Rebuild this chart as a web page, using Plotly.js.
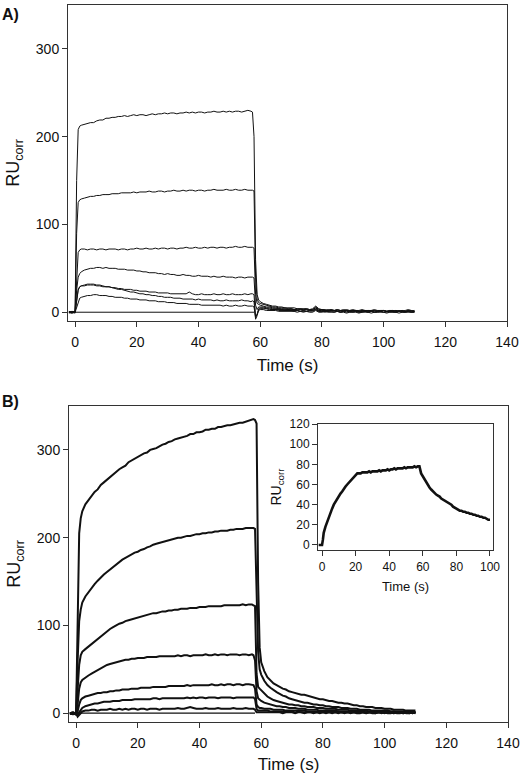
<!DOCTYPE html>
<html>
<head>
<meta charset="utf-8">
<script src="https://cdn.plot.ly/plotly-3.0.1.min.js"></script>
<style>html,body{margin:0;padding:0;background:#fff;}#chart{width:520px;height:774px;}</style>
</head>
<body>
<div id="chart"></div>
<script>
// ---------- time base (s) for the two main panels ----------
const timeMain = [-2,-1,0,0.5,1,1.5,2,
  3,4,5,6,7,8,9,10,11,12,13,
  14,15,16,17,18,19,20,21,22,23,24,
  25,26,27,28,29,30,31,32,33,34,35,
  36,37,38,39,40,41,42,43,44,45,46,
  47,48,49,50,51,52,53,54,55,56,57,
  57.5,58,58.5,59,59.5,
  60,61,62,63,64,65,66,67,68,69,
  70,71,72,73,74,75,76,77,78,79,
  80,81,82,83,84,85,86,87,88,89,
  90,91,92,93,94,95,96,97,98,99,
  100,101,102,103,104,105,106,107,108,109,110];

// ---------- panel A sensorgrams (RU corr) ----------
const panelA_1 = [0,1,0, 150,208,212,213,
  214,215,216,216,218,219,219,221,221,222,222,
  223,223,224,223,224,225,224,225,225,224,225,
  226,225,226,226,227,226,227,227,226,227,227,
  228,227,228,227,228,228,227,228,228,229,228,
  228,229,228,229,228,229,229,228,229,230,229,
  228,200,60,20,14,
  12,10,9,8,7,7,6,6,5,5,
  5,5,4,4,4,4,3,4,7,4,
  3,3,2,3,2,3,2,3,2,2,
  3,2,2,3,2,2,2,3,2,2,
  2,1,2,2,1,2,1,2,3,2,1];
const panelA_2 = [1,0,-1, 90,125,128,129,
  130,131,132,132,133,133,134,134,134,135,135,
  135,136,136,136,136,137,136,137,137,137,138,
  137,137,138,138,137,138,138,139,138,138,139,
  138,139,139,138,139,139,138,139,139,140,139,
  139,139,140,139,139,140,139,139,140,139,139,
  139,138,40,15,11,
  10,9,8,7,6,6,5,5,5,4,
  4,3,4,3,3,4,3,3,6,3,
  3,2,3,2,2,3,2,2,3,2,
  2,2,1,2,2,1,2,2,1,2,
  2,1,2,1,2,1,2,1,2,1,2];
const panelA_3 = [0,-1,1, 45,68,71,72,
  72,71,72,72,71,72,72,71,72,72,72,
  71,72,72,71,72,72,73,72,72,73,72,
  72,73,72,73,73,72,73,73,72,73,73,
  74,73,73,74,73,73,74,73,74,74,73,
  74,74,73,74,74,75,74,74,75,74,74,
  74,73,20,10,9,
  8,7,6,6,5,5,4,4,4,3,
  4,3,3,4,3,3,2,3,5,2,
  3,2,2,3,2,2,1,2,2,1,
  2,2,1,2,1,2,1,1,2,1,
  2,1,1,2,1,1,2,1,1,2,1];
const panelA_4 = [-1,0,1, 25,40,44,46,
  48,49,50,50,51,51,50,51,50,50,50,
  49,49,49,48,48,48,47,47,46,46,45,
  45,45,44,44,43,44,43,43,42,42,43,
  42,42,41,41,42,41,41,41,40,41,40,
  40,41,40,40,40,39,40,40,39,40,40,
  40,39,8,3,6,
  6,6,5,5,4,4,4,3,3,3,
  3,3,2,3,2,3,2,2,4,2,
  2,2,1,2,2,1,2,1,2,1,
  1,2,1,1,2,1,1,2,1,1,
  2,1,1,1,2,1,1,1,2,1,1];
const panelA_5 = [0,1,0, 15,26,29,30,
  30,31,31,31,30,30,29,29,29,28,28,
  27,27,26,26,26,25,25,24,24,24,23,
  23,23,22,22,22,22,21,21,21,21,21,
  21,23,21,20,20,21,20,20,20,21,20,
  20,21,20,20,21,20,20,20,21,20,21,
  21,20,-5,-3,4,
  5,5,4,4,3,3,3,3,2,2,
  2,2,2,1,2,1,1,2,3,1,
  1,1,1,2,1,1,0,1,1,0,
  1,1,0,1,1,0,1,0,1,1,
  0,1,0,1,0,1,1,0,1,0,1];
const panelA_6 = [1,0,0, 14,25,29,30,
  31,32,32,32,31,31,30,29,29,28,27,
  26,26,25,24,23,23,22,21,21,20,20,
  19,19,18,18,17,17,17,16,16,16,15,
  15,15,15,14,15,14,14,14,14,13,14,
  13,13,14,13,13,13,13,14,13,13,12,
  13,12,-8,-4,3,
  4,4,4,3,3,3,2,2,2,2,
  2,1,2,1,1,1,2,1,3,1,
  1,0,1,1,0,1,0,1,0,1,
  0,1,0,0,1,0,1,0,0,1,
  0,0,1,0,0,1,0,0,1,0,0];
const panelA_7 = [0,-1,0, 6,13,16,17,
  18,19,19,20,20,19,19,19,18,18,17,
  17,17,16,16,15,15,15,14,14,14,13,
  13,13,12,12,12,11,11,11,10,10,10,
  10,9,9,9,9,8,8,8,8,8,8,
  8,7,8,7,7,8,7,7,8,7,7,
  7,6,-6,-2,2,
  3,3,2,2,2,2,1,1,1,1,
  1,1,0,1,0,1,0,0,2,0,
  0,1,0,0,0,1,0,0,-1,0,
  0,0,-1,0,0,0,-1,0,0,0,
  0,-1,0,0,0,-1,0,0,0,0,0];
const baselineA_t = [-2, 58];
const baselineA_v = [0, 0];

// ---------- panel B sensorgrams (RU corr) ----------
const panelB_1 = [0,1,-2, 120,205,222,230,
  238,243,247,252,255,260,263,266,270,272,275,
  278,280,282,286,288,290,292,294,296,297,300,
  301,302,304,306,307,309,310,312,313,314,315,
  316,318,318,320,320,321,323,323,324,324,326,
  326,327,328,328,329,330,331,331,332,333,334,
  335,334,330,150,75,
  58,48,41,37,34,32,30,28,27,25,
  24,23,22,21,21,20,19,18,17,16,
  16,15,14,14,13,12,12,11,11,10,
  9,9,8,8,7,7,7,6,6,6,
  5,5,5,4,4,4,4,3,3,3,3];
const panelB_2 = [-1,0,1, 60,105,118,126,
  133,138,143,147,151,155,158,161,164,167,170,
  172,175,177,179,181,183,184,186,187,189,190,
  192,193,194,195,196,197,198,199,200,200,201,
  202,202,203,204,204,205,205,206,206,207,207,
  208,208,208,209,209,210,210,210,211,211,211,
  211,210,150,70,50,
  44,37,32,29,26,24,22,20,19,17,
  16,15,14,13,12,12,11,10,10,9,
  9,8,8,7,7,7,6,6,6,5,
  5,5,4,4,4,4,3,3,3,3,
  3,3,2,2,2,2,2,2,2,1,1];
const panelB_3 = [0,-1,0, 25,55,66,70,
  73,76,79,82,85,88,91,94,96,98,100,
  102,103,105,106,107,108,109,110,111,112,113,
  114,114,115,116,116,117,117,118,118,119,119,
  119,120,120,120,121,121,121,122,122,122,122,
  122,123,123,123,123,123,123,124,123,124,124,
  123,122,45,30,28,
  26,22,19,17,15,14,13,12,11,10,
  10,9,9,8,8,7,7,7,6,6,
  6,5,5,5,5,4,4,4,4,3,
  3,3,3,3,3,2,2,2,2,2,
  2,2,2,2,1,1,1,1,1,1,1];
const panelB_4 = [0,1,-1, 10,28,35,38,
  41,43,45,47,49,51,53,55,56,57,58,
  59,60,61,61,62,62,63,63,63,64,64,
  64,64,65,65,65,65,65,65,66,65,66,
  66,65,66,66,66,66,67,66,66,67,66,
  67,67,66,67,67,67,66,67,67,66,67,
  66,60,25,17,15,
  14,12,11,10,9,8,8,7,7,6,
  6,6,5,5,5,4,4,4,4,3,
  3,3,3,3,3,2,2,2,2,2,
  2,2,2,2,1,1,1,1,1,1,
  1,1,1,1,1,1,0,1,1,0,1];
const panelB_5 = [0,0,-1, 2,10,15,17,
  19,20,21,22,23,23,24,24,25,25,26,
  26,27,27,27,28,28,28,29,29,29,29,
  30,30,30,30,30,31,31,31,31,31,31,
  32,31,32,32,32,32,32,32,33,32,32,
  33,32,33,33,32,33,33,32,33,33,32,
  32,28,10,7,6,
  6,5,5,5,4,4,4,4,3,3,
  3,3,3,3,3,2,2,2,2,2,
  2,2,2,2,2,2,1,1,1,1,
  1,1,1,1,1,1,1,1,1,1,
  1,1,1,0,1,1,0,1,1,0,1];
const panelB_6 = [0,-1,0, -3,1,4,6,
  8,9,10,11,11,12,13,13,13,14,14,
  14,15,15,15,15,16,16,16,16,16,16,
  17,17,16,17,17,17,17,17,17,17,17,
  18,17,18,17,18,18,17,18,18,18,17,
  18,18,18,18,17,18,18,18,18,18,18,
  18,16,5,3,3,
  3,3,3,2,2,2,2,2,2,2,
  2,1,2,1,1,1,1,1,1,1,
  1,1,1,1,1,1,1,1,1,1,
  1,1,1,1,0,1,1,0,1,1,
  0,1,1,0,1,1,0,1,0,1,1];
const panelB_7 = [0,0,0, -4,-2,0,2,
  3,3,4,4,3,4,4,4,5,4,4,
  5,4,5,4,5,5,4,5,5,4,5,
  5,5,4,5,5,5,5,5,6,5,5,
  6,7,6,5,5,5,6,5,5,5,6,
  5,5,5,5,6,5,5,5,6,5,5,
  5,4,1,1,1,
  1,1,1,1,1,1,1,0,1,1,
  1,0,1,1,0,1,1,0,1,0,
  1,0,1,0,1,0,1,0,1,0,
  1,0,0,1,0,1,0,0,1,0,
  1,0,0,1,0,0,1,0,0,1,0];
const baselineB_t = [-2, 58];
const baselineB_v = [0, 0];

// ---------- inset (single sensorgram) ----------
const insetTime = [-2,-1,0,0.5,1,
  2,3,4,5,6,7,8,9,10,11,
  12,13,14,15,16,17,18,19,20,21,
  22,23,24,25,26,27,28,29,30,31,
  32,33,34,35,36,37,38,39,40,41,
  42,43,44,45,46,47,48,49,50,51,
  52,53,54,55,56,57,58,59,60,61,
  62,63,64,65,66,67,68,69,70,71,
  72,73,74,75,76,77,78,79,80,81,
  82,83,84,85,86,87,88,89,90,91,
  92,93,94,95,96,97,98,99,100];
const insetRU = [0,0,0,5,12,
  18,23,28,32,36,40,43,46,49,51,
  53,56,58,60,62,64,66,68,70,71,
  71,71,72,72,72,72,73,72,73,73,
  73,73,74,73,74,74,74,75,74,75,
  75,76,75,76,76,76,76,77,76,77,
  77,77,77,78,77,78,78,71,68,65,
  62,59,57,55,53,52,50,49,48,46,
  45,44,43,42,41,40,38,37,36,35,
  34,34,33,33,32,32,31,31,30,30,
  29,29,28,28,27,27,26,25,25];

// ---------- ticks ----------
const timeTicks = [0,20,40,60,80,100,120,140];
const ruTicks = [0,100,200,300];
const insetTimeTicks = [0,20,40,60,80,100];
const insetRuTicks = [0,20,40,60,80,100,120];

// ---------- build ----------
const W = 520, H = 774;
const FONT = 'Liberation Sans, Arial, Helvetica, sans-serif';
const INK = '#111';

function lineTrace(x, y, xa, ya, w) {
  return {x: x, y: y, xaxis: xa, yaxis: ya, type: 'scatter', mode: 'lines',
          line: {color: INK, width: w}, hoverinfo: 'skip', showlegend: false};
}

const traces = [];
[panelA_1, panelA_2, panelA_3, panelA_4, panelA_5, panelA_6, panelA_7].forEach(v =>
  traces.push(lineTrace(timeMain, v, 'x', 'y', 1)));
traces.push(lineTrace(baselineA_t, baselineA_v, 'x', 'y', 1));
[panelB_1, panelB_2, panelB_3, panelB_4, panelB_5, panelB_6, panelB_7].forEach(v =>
  traces.push(lineTrace(timeMain, v, 'x2', 'y2', 2)));
traces.push(lineTrace(baselineB_t, baselineB_v, 'x2', 'y2', 1.2));
traces.push(lineTrace(insetTime, insetRU, 'x3', 'y3', 2.6));

function px(a) { return a / W; }
function py(b) { return 1 - b / H; }

function xAxis(dom, anchor, range, ticks, fs, tfs, standoff, lblOff) {
  return {domain: dom, anchor: anchor, range: range, tickvals: ticks,
          ticks: 'outside', ticklen: 5, tickcolor: '#333', tickwidth: 1,
          ticklabelstandoff: lblOff,
          showline: true, mirror: true, linecolor: '#333', linewidth: 1,
          showgrid: false, zeroline: false, automargin: false,
          tickfont: {family: FONT, size: fs, color: '#111'},
          title: {text: 'Time (s)', font: {family: FONT, size: tfs, color: '#111'}, standoff: standoff}};
}
function yAxis(dom, anchor, range, ticks, fs, tfs, standoff) {
  return {domain: dom, anchor: anchor, range: range, tickvals: ticks,
          ticks: 'outside', ticklen: 5, tickcolor: '#333', tickwidth: 1,
          showline: true, mirror: true, linecolor: '#333', linewidth: 1,
          showgrid: false, zeroline: false, automargin: false,
          tickfont: {family: FONT, size: fs, color: '#111'},
          title: {text: 'RU<sub>corr</sub>', font: {family: FONT, size: tfs, color: '#111'}, standoff: standoff}};
}

const layout = {
  width: W, height: H,
  margin: {l: 0, r: 0, t: 0, b: 0},
  paper_bgcolor: '#fff', plot_bgcolor: '#fff',
  font: {family: FONT, color: '#111'},
  xaxis:  xAxis([px(68), px(507)], 'y',  [-2.3, 140], timeTicks, 14, 17, 10, 3),
  yaxis:  yAxis([py(321), py(5)],   'x',  [-10, 350], ruTicks, 14, 18, 11),
  xaxis2: xAxis([px(69), px(508)], 'y2', [-2.3, 140], timeTicks, 14, 17, 10, 3),
  yaxis2: yAxis([py(722), py(406)], 'x2', [-10, 350], ruTicks, 14, 18, 11),
  xaxis3: xAxis([px(318), px(493)], 'y3', [-2.4, 101.8], insetTimeTicks, 12, 13, 8, 1),
  yaxis3: yAxis([py(550), py(424)], 'x3', [-5, 120], insetRuTicks, 12, 14, 4),
  annotations: [
    {text: '<b>A)</b>', xref: 'paper', yref: 'paper', x: 0, y: py(4), xanchor: 'left', yanchor: 'top',
     showarrow: false, font: {family: FONT, size: 16, color: '#111'}},
    {text: '<b>B)</b>', xref: 'paper', yref: 'paper', x: 0, y: py(391), xanchor: 'left', yanchor: 'top',
     showarrow: false, font: {family: FONT, size: 16, color: '#111'}}
  ]
};

Plotly.newPlot('chart', traces, layout, {staticPlot: true, displayModeBar: false});
</script>
</body>
</html>
